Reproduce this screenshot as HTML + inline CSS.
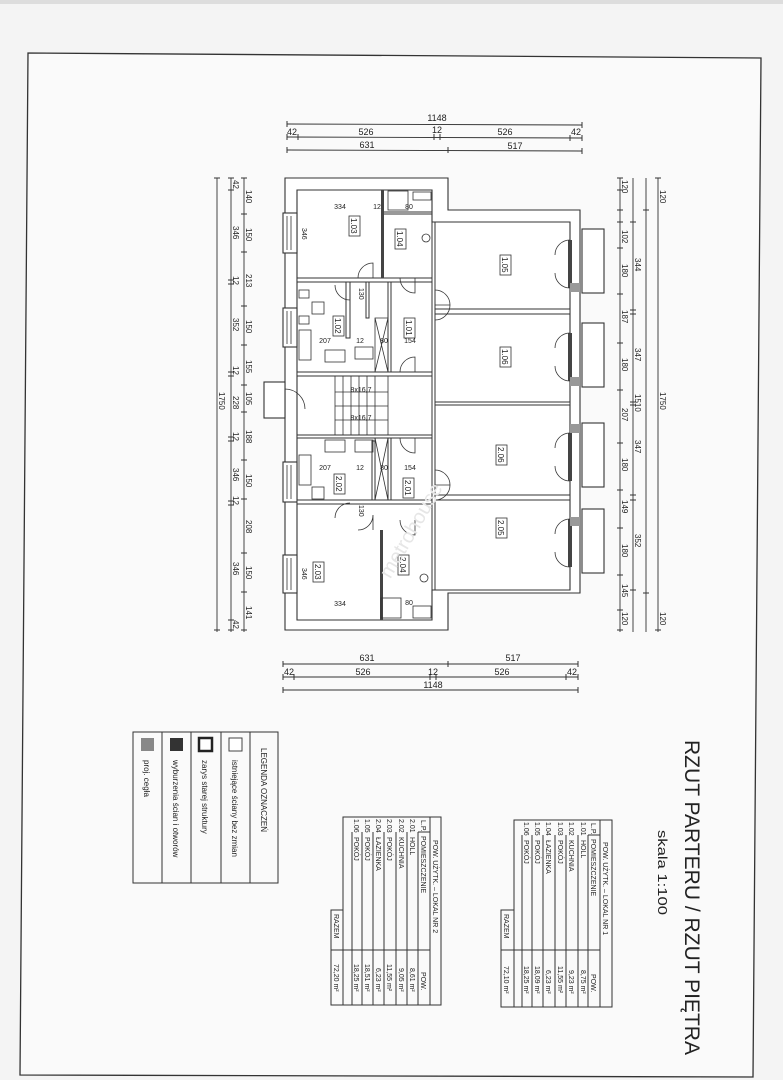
<!DOCTYPE html>
<html><head><meta charset="utf-8"><style>
html,body{margin:0;padding:0;background:#f4f4f4}
svg{display:block}
text{font-family:"Liberation Sans",sans-serif;fill:#222}
</style></head><body>
<svg width="783" height="1080" viewBox="0 0 783 1080" xmlns="http://www.w3.org/2000/svg">
<rect width="783" height="1080" fill="#f4f4f4"/>
<rect x="0" y="0" width="783" height="4" fill="#ddd"/>
<polygon points="28,53 761,58 753,1077 20,1075" fill="#fafafa" stroke="#333" stroke-width="1.3"/>

<g stroke="#333" stroke-width="0.9">
<line x1="287" y1="124" x2="582" y2="125"/>
<line x1="287" y1="137" x2="582" y2="138"/>
<line x1="287" y1="150" x2="582" y2="151"/>
<line x1="283" y1="664" x2="578" y2="664"/>
<line x1="283" y1="677" x2="578" y2="677"/>
<line x1="283" y1="690" x2="578" y2="690"/>
<line x1="217" y1="178" x2="217" y2="632"/>
<line x1="231" y1="178" x2="231" y2="632"/>
<line x1="244" y1="178" x2="244" y2="632"/>
<line x1="620" y1="178" x2="620" y2="632"/>
<line x1="633" y1="178" x2="633" y2="632"/>
<line x1="646" y1="178" x2="646" y2="632"/>
<line x1="658" y1="178" x2="658" y2="632"/>
</g>
<g stroke="#333" stroke-width="1">
<path d="M287,121v6M582,122v6M287,134v6M298,134v6M434,134v6M440,134v6M570,135v6M582,135v6M287,147v6M448,147v6M582,148v6"/>
<path d="M283,661v6M448,661v6M578,661v6M283,674v6M294,674v6M430,674v6M436,674v6M566,674v6M578,674v6M283,687v6M578,687v6"/>
<path d="M214,178h6M214,630h6M228,178h6M228,190h6M228,280h6M228,284h6M228,372h6M228,376h6M228,437h6M228,441h6M228,501h6M228,505h6M228,620h6M228,630h6"/>
<path d="M241,178h6M241,214h6M241,252h6M241,306h6M241,345h6M241,385h6M241,412h6M241,460h6M241,499h6M241,553h6M241,592h6M241,630h6"/>
<path d="M617,178h6M617,190h6M617,210h6M617,222h6M617,248h6M617,294h6M617,343h6M617,390h6M617,443h6M617,490h6M617,528h6M617,575h6M617,610h6M617,630h6"/>
<path d="M630,222h6M630,310h6M630,314h6M630,402h6M630,405h6M630,495h6M630,500h6M630,590h6M643,210h6M643,593h6M655,178h6M655,630h6"/>
</g>
<g font-size="9" text-anchor="middle">
<text x="437" y="121">1148</text>
<text x="292" y="135">42</text><text x="366" y="135">526</text><text x="437" y="133">12</text><text x="505" y="135">526</text><text x="576" y="135">42</text>
<text x="367" y="148">631</text><text x="515" y="149">517</text>
<text x="367" y="661">631</text><text x="513" y="661">517</text>
<text x="289" y="675">42</text><text x="363" y="675">526</text><text x="433" y="675">12</text><text x="502" y="675">526</text><text x="572" y="675">42</text>
<text x="433" y="688">1148</text>
</g>
<g font-size="8">
<text transform="translate(219,392) rotate(90)">1750</text>
<text transform="translate(233,180) rotate(90)">42</text>
<text transform="translate(233,226) rotate(90)">346</text>
<text transform="translate(233,276) rotate(90)">12</text>
<text transform="translate(233,318) rotate(90)">352</text>
<text transform="translate(233,366) rotate(90)">12</text>
<text transform="translate(233,396) rotate(90)">228</text>
<text transform="translate(233,432) rotate(90)">12</text>
<text transform="translate(233,468) rotate(90)">346</text>
<text transform="translate(233,496) rotate(90)">12</text>
<text transform="translate(233,562) rotate(90)">346</text>
<text transform="translate(233,620) rotate(90)">42</text>
<text transform="translate(246,190) rotate(90)">140</text>
<text transform="translate(246,228) rotate(90)">150</text>
<text transform="translate(246,274) rotate(90)">213</text>
<text transform="translate(246,320) rotate(90)">150</text>
<text transform="translate(246,360) rotate(90)">155</text>
<text transform="translate(246,392) rotate(90)">105</text>
<text transform="translate(246,430) rotate(90)">188</text>
<text transform="translate(246,474) rotate(90)">150</text>
<text transform="translate(246,520) rotate(90)">208</text>
<text transform="translate(246,566) rotate(90)">150</text>
<text transform="translate(246,606) rotate(90)">141</text>
<text transform="translate(622,180) rotate(90)">120</text>
<text transform="translate(622,230) rotate(90)">102</text>
<text transform="translate(622,264) rotate(90)">180</text>
<text transform="translate(622,310) rotate(90)">187</text>
<text transform="translate(622,358) rotate(90)">180</text>
<text transform="translate(622,408) rotate(90)">207</text>
<text transform="translate(622,458) rotate(90)">180</text>
<text transform="translate(622,500) rotate(90)">149</text>
<text transform="translate(622,544) rotate(90)">180</text>
<text transform="translate(622,584) rotate(90)">145</text>
<text transform="translate(622,612) rotate(90)">120</text>
<text transform="translate(635,258) rotate(90)">344</text>
<text transform="translate(635,348) rotate(90)">347</text>
<text transform="translate(635,440) rotate(90)">347</text>
<text transform="translate(635,534) rotate(90)">352</text>
<text transform="translate(635,394) rotate(90)">1510</text>
<text transform="translate(660,190) rotate(90)">120</text>
<text transform="translate(660,392) rotate(90)">1750</text>
<text transform="translate(660,612) rotate(90)">120</text>
</g>

<g fill="#fff" stroke="#333" stroke-width="1.1">
<polygon points="285,178 448,178 448,210 580,210 580,593 448,593 448,630 285,630"/>
<polygon points="297,190 432,190 432,222 570,222 570,590 432,590 432,620 297,620" fill="#fff"/>
<rect x="582" y="229" width="22" height="64"/>
<rect x="582" y="323" width="22" height="64"/>
<rect x="582" y="423" width="22" height="64"/>
<rect x="582" y="509" width="22" height="64"/>
<rect x="283" y="213" width="14" height="40"/>
<rect x="283" y="308" width="14" height="39"/>
<rect x="283" y="462" width="14" height="40"/>
<rect x="283" y="555" width="14" height="38"/>
<rect x="264" y="382" width="21" height="36"/>
</g>
<g stroke="#333" stroke-width="0.8" fill="none">
<path d="M287,216v34M291,216v34M287,311v33M291,311v33M287,465v34M291,465v34M287,558v32M291,558v32"/>
</g>
<g fill="#fff" stroke="#333" stroke-width="1">
<rect x="432" y="222" width="3" height="368"/>
<rect x="435" y="309" width="135" height="5"/>
<rect x="435" y="402" width="135" height="3"/>
<rect x="435" y="495" width="135" height="5"/>
<rect x="297" y="278" width="135" height="4"/>
<rect x="297" y="372" width="135" height="4"/>
<rect x="297" y="435" width="135" height="3"/>
<rect x="297" y="500" width="135" height="4"/>
<rect x="382" y="212" width="50" height="2"/>
<rect x="346" y="282" width="4" height="56"/>
<rect x="366" y="282" width="3" height="36"/>
<rect x="372" y="441" width="3" height="59"/>
<rect x="388" y="282" width="3" height="90"/>
<rect x="388" y="438" width="3" height="62"/>
</g>
<g fill="#444">
<rect x="381" y="190" width="3" height="88"/>
<rect x="380" y="530" width="3" height="90"/>
<rect x="568" y="240" width="4" height="48"/>
<rect x="568" y="333" width="4" height="48"/>
<rect x="568" y="433" width="4" height="48"/>
<rect x="568" y="519" width="4" height="48"/>
</g>
<g fill="#999">
<rect x="570" y="283" width="10" height="9"/><rect x="570" y="377" width="10" height="9"/>
<rect x="570" y="424" width="10" height="9"/><rect x="570" y="517" width="10" height="9"/>
</g>
<g fill="none" stroke="#333" stroke-width="0.8">
<rect x="388" y="191" width="20" height="19"/><rect x="413" y="192" width="18" height="8"/>
<rect x="381" y="598" width="20" height="20"/><rect x="413" y="606" width="18" height="12"/>
<circle cx="426" cy="238" r="4"/><circle cx="424" cy="578" r="4"/>
<rect x="299" y="290" width="10" height="8"/><rect x="312" y="302" width="12" height="12"/><rect x="299" y="316" width="10" height="8"/>
<rect x="299" y="330" width="12" height="30"/><rect x="325" y="350" width="20" height="12"/>
<rect x="299" y="455" width="12" height="30"/><rect x="312" y="487" width="12" height="12"/>
<rect x="325" y="440" width="20" height="12"/><rect x="355" y="347" width="18" height="12"/><rect x="355" y="440" width="18" height="12"/>
<rect x="335" y="376" width="53" height="59"/>
<path d="M343,376v59M351,376v59M359,376v59M367,376v59M375,376v59M335,392h53M335,406h53M335,420h53"/>
<path d="M375,318h13v54h-13zM375,318l13,54M388,318l-13,54M375,438h13v62h-13zM375,438l13,62M388,438l-13,62"/>
<path d="M285,389a20,20 0 0 1 20,20M285,389v20M358,278a15,15 0 0 1 15,-15v15M400,278a15,15 0 0 0 15,15v-15M350,300a15,15 0 0 1 -15,-15M435,290a15,15 0 0 1 15,15h-15M435,320a15,15 0 0 0 15,-15M400,372a15,15 0 0 1 15,-15v15M400,438a15,15 0 0 0 15,15v-15M435,470a15,15 0 0 1 15,15h-15M435,500a15,15 0 0 0 15,-15M350,503a15,15 0 0 0 -15,15M358,530a15,15 0 0 0 15,-15v15M400,520a15,15 0 0 0 15,15v-15"/>
<path d="M570,240a15,15 0 0 0 -15,15M570,288a15,15 0 0 1 -15,-15M570,333a15,15 0 0 0 -15,15M570,381a15,15 0 0 1 -15,-15M570,433a15,15 0 0 0 -15,15M570,481a15,15 0 0 1 -15,-15M570,519a15,15 0 0 0 -15,15M570,567a15,15 0 0 1 -15,-15"/>
</g>
<g fill="#fff" stroke="#333" stroke-width="0.8">
<rect x="349" y="216" width="11" height="20"/><rect x="395" y="229" width="11" height="20"/>
<rect x="500" y="255" width="11" height="20"/><rect x="500" y="347" width="11" height="20"/>
<rect x="496" y="445" width="11" height="20"/><rect x="496" y="518" width="11" height="20"/>
<rect x="333" y="316" width="11" height="20"/><rect x="404" y="318" width="11" height="20"/>
<rect x="334" y="474" width="11" height="20"/><rect x="403" y="478" width="11" height="20"/>
<rect x="313" y="562" width="11" height="20"/><rect x="398" y="555" width="11" height="20"/>
</g>
<g font-size="8">
<text transform="translate(351,218) rotate(90)">1.03</text><text transform="translate(397,231) rotate(90)">1.04</text>
<text transform="translate(502,257) rotate(90)">1.05</text><text transform="translate(502,349) rotate(90)">1.06</text>
<text transform="translate(498,447) rotate(90)">2.06</text><text transform="translate(498,520) rotate(90)">2.05</text>
<text transform="translate(335,318) rotate(90)">1.02</text><text transform="translate(406,320) rotate(90)">1.01</text>
<text transform="translate(336,476) rotate(90)">2.02</text><text transform="translate(405,480) rotate(90)">2.01</text>
<text transform="translate(315,564) rotate(90)">2.03</text><text transform="translate(400,557) rotate(90)">2.04</text>
</g>
<g font-size="7" text-anchor="middle">
<text x="340" y="209">334</text><text x="377" y="209">12</text><text x="409" y="209">80</text>
<text x="325" y="343">207</text><text x="360" y="343">12</text><text x="384" y="343">80</text><text x="410" y="343">154</text>
<text x="325" y="470">207</text><text x="360" y="470">12</text><text x="384" y="470">80</text><text x="410" y="470">154</text>
<text x="340" y="606">334</text><text x="409" y="605">80</text>
<text x="361" y="392">8x16,7</text><text x="361" y="420">8x16,7</text>
</g>
<g font-size="7">
<text transform="translate(302,228) rotate(90)">346</text><text transform="translate(302,568) rotate(90)">346</text>
<text transform="translate(359,288) rotate(90)">130</text><text transform="translate(359,505) rotate(90)">130</text>
</g>
<text x="330" y="545" font-size="20" transform="rotate(-60 390 510)" style="fill:#e6e6e6">metrohouse</text>

<g fill="none" stroke="#333" stroke-width="1">
<rect x="133" y="732" width="145" height="151"/>
<path d="M162,732v151M191,732v151M221,732v151M250,732v151"/>
</g>
<rect x="229" y="738" width="13" height="13" fill="#fff" stroke="#444"/>
<rect x="199" y="738" width="13" height="13" fill="#fff" stroke="#222" stroke-width="2.5"/>
<rect x="170" y="738" width="13" height="13" fill="#333"/>
<rect x="141" y="738" width="13" height="13" fill="#888"/>
<g font-size="8">
<text transform="translate(261,748) rotate(90)">LEGENDA OZNACZEŃ</text>
<text transform="translate(232,760) rotate(90)">istniejące ściany bez zmian</text>
<text transform="translate(202,760) rotate(90)">zarys starej struktury</text>
<text transform="translate(173,760) rotate(90)">wyburzenia ścian i otworów</text>
<text transform="translate(144,760) rotate(90)">proj. cegła</text>
</g>

<g fill="none" stroke="#333" stroke-width="1">
<path d="M343,817H441V1005H331V910H343ZM430,817V1005M418,832V1005M407,832v173M396,832v173M384,832v173M373,832v173M362,832v173M352,832v173M343,910v95M331,950H430M418,832H430"/>
</g>
<g font-size="7">
<text transform="translate(433,840) rotate(90)">POW. UŻYTK. – LOKAL NR 2</text>
<text transform="translate(421,820) rotate(90)">L.P.</text><text transform="translate(421,836) rotate(90)">POMIESZCZENIE</text><text transform="translate(421,972) rotate(90)">POW.</text>
<text transform="translate(410,819) rotate(90)">2.01</text><text transform="translate(410,837) rotate(90)">HOLL</text><text transform="translate(410,968) rotate(90)">8,61  m²</text>
<text transform="translate(399,819) rotate(90)">2.02</text><text transform="translate(399,837) rotate(90)">KUCHNIA</text><text transform="translate(399,968) rotate(90)">9,05  m²</text>
<text transform="translate(387,819) rotate(90)">2.03</text><text transform="translate(387,837) rotate(90)">POKÓJ</text><text transform="translate(387,964) rotate(90)">11,55  m²</text>
<text transform="translate(376,819) rotate(90)">2.04</text><text transform="translate(376,837) rotate(90)">ŁAZIENKA</text><text transform="translate(376,968) rotate(90)">6,23  m²</text>
<text transform="translate(365,819) rotate(90)">1.05</text><text transform="translate(365,837) rotate(90)">POKÓJ</text><text transform="translate(365,964) rotate(90)">18,51  m²</text>
<text transform="translate(354,819) rotate(90)">1.06</text><text transform="translate(354,837) rotate(90)">POKÓJ</text><text transform="translate(354,964) rotate(90)">18,25  m²</text>
<text transform="translate(334,914) rotate(90)">RAZEM</text><text transform="translate(334,964) rotate(90)">72,20  m²</text>
</g>

<g fill="none" stroke="#333" stroke-width="1">
<path d="M514,820H612V1007H501V910H514ZM600,820V1007M588,835V1007M578,835v172M566,835v172M555,835v172M543,835v172M532,835v172M522,835v172M514,910v97M501,950H600M588,835H600"/>
</g>
<g font-size="7">
<text transform="translate(603,842) rotate(90)">POW. UŻYTK. – LOKAL NR 1</text>
<text transform="translate(591,823) rotate(90)">L.P.</text><text transform="translate(591,839) rotate(90)">POMIESZCZENIE</text><text transform="translate(591,974) rotate(90)">POW.</text>
<text transform="translate(581,822) rotate(90)">1.01</text><text transform="translate(581,840) rotate(90)">HOLL</text><text transform="translate(581,970) rotate(90)">8,75  m²</text>
<text transform="translate(569,822) rotate(90)">1.02</text><text transform="translate(569,840) rotate(90)">KUCHNIA</text><text transform="translate(569,970) rotate(90)">9,23  m²</text>
<text transform="translate(558,822) rotate(90)">1.03</text><text transform="translate(558,840) rotate(90)">POKÓJ</text><text transform="translate(558,966) rotate(90)">11,55  m²</text>
<text transform="translate(546,822) rotate(90)">1.04</text><text transform="translate(546,840) rotate(90)">ŁAZIENKA</text><text transform="translate(546,970) rotate(90)">6,23  m²</text>
<text transform="translate(535,822) rotate(90)">1.05</text><text transform="translate(535,840) rotate(90)">POKÓJ</text><text transform="translate(535,966) rotate(90)">18,09  m²</text>
<text transform="translate(524,822) rotate(90)">1.06</text><text transform="translate(524,840) rotate(90)">POKÓJ</text><text transform="translate(524,966) rotate(90)">18,25  m²</text>
<text transform="translate(504,914) rotate(90)">RAZEM</text><text transform="translate(504,966) rotate(90)">72,10  m²</text>
</g>

<text transform="translate(685,740) rotate(90)" font-size="21" textLength="315" lengthAdjust="spacingAndGlyphs">RZUT PARTERU / RZUT PIĘTRA</text>
<text transform="translate(658,830) rotate(90)" font-size="13" textLength="85" lengthAdjust="spacingAndGlyphs">skala 1:100</text>
</svg>
</body></html>
